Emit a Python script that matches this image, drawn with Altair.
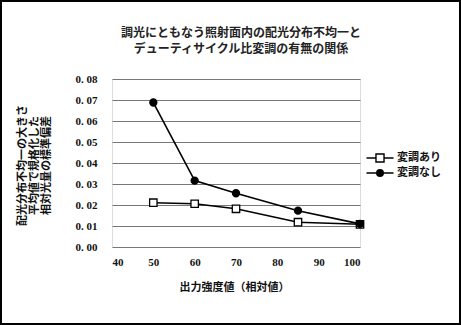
import altair as alt
import pandas as pd

x_vals = [50, 60, 70, 85, 100]
with_mod = [0.0211, 0.0206, 0.0182, 0.0118, 0.0108]
without_mod = [0.0688, 0.0316, 0.0256, 0.0173, 0.0110]
series_names = ["変調あり", "変調なし"]
title_lines = ["調光にともなう照射面内の配光分布不均一と", "デューティサイクル比変調の有無の関係"]
y_title_lines = ["配光分布不均一の大きさ", "平均値で規格化した", "相対光量の標準偏差"]
x_title = "出力強度値（相対値）"
x_ticks = [40, 50, 60, 70, 80, 90, 100]
y_ticks = [0, 0.01, 0.02, 0.03, 0.04, 0.05, 0.06, 0.07, 0.08]

rows = []
for xv, yv in zip(x_vals, with_mod):
    rows.append({"x": xv, "y": yv, "series": series_names[0]})
for xv, yv in zip(x_vals, without_mod):
    rows.append({"x": xv, "y": yv, "series": series_names[1]})
df = pd.DataFrame(rows)

JP = "Noto Sans CJK JP"
NUM = "Liberation Serif"
W, H = 248, 168

xenc = alt.X("x:Q", scale=alt.Scale(domain=[40, 100], nice=False),
             axis=alt.Axis(title=x_title, values=x_ticks,
                           grid=False, ticks=False, domain=False, labelOverlap=False,
                           labelFont=NUM, labelFontSize=11, labelFontWeight="bold",
                           labelColor="#111", labelPadding=9,
                           titleFont=JP, titleFontSize=11, titleFontWeight="bold",
                           titleColor="#111", titlePadding=14, titleX=122, titleAnchor="middle"))
yenc = alt.Y("y:Q", scale=alt.Scale(domain=[0, 0.08], nice=False),
             axis=alt.Axis(title=y_title_lines, values=y_ticks,
                           labelExpr="replace(format(datum.value, '.2f'), '.', '. ')",
                           grid=True, gridColor="#777", gridWidth=1.2,
                           ticks=False, domain=False, labelOverlap=False,
                           labelFont=NUM, labelFontSize=11, labelFontWeight="bold",
                           labelColor="#111", labelPadding=15,
                           titleFont=JP, titleFontSize=11, titleFontWeight="bold",
                           titleColor="#111", titleAngle=-90, titleAlign="center",
                           titleBaseline="top", titleLineHeight=12,
                           titleX=-96, titleY=86))

line = alt.Chart(df).mark_line(color="black", strokeWidth=1.6).encode(
    x=xenc, y=yenc, detail="series:N")

pts_a = alt.Chart(df).transform_filter(alt.datum.series == series_names[0]).mark_point(
    shape="square", filled=True, fill="white", stroke="black", strokeWidth=1.3, size=55, opacity=1
).encode(x=xenc, y=yenc)

pts_b = alt.Chart(df).transform_filter(alt.datum.series == series_names[1]).mark_point(
    shape="circle", filled=True, fill="black", stroke="black", size=40, opacity=1
).encode(x=xenc, y=yenc)

# legend symbols: short line with marker (units: 1 = 6px at symbolSize 144)
legend_paths = [
    "M-2.25,0H-0.67M0.67,0H2.25M-0.67,-0.67H0.67V0.67H-0.67Z",
    "M-2.25,0H2.25M0.55,0A0.55,0.55 0 1,1 -0.55,0A0.55,0.55 0 1,1 0.55,0Z"
    "M0.33,0A0.33,0.33 0 1,1 -0.33,0A0.33,0.33 0 1,1 0.33,0Z"
    "M0.12,0A0.12,0.12 0 1,1 -0.12,0A0.12,0.12 0 1,1 0.12,0Z",
]
legend_layer = alt.Chart(df).transform_filter("false").mark_point(
    filled=False, color="black", stroke="black", strokeWidth=1.4
).encode(
    x=xenc, y=yenc,
    shape=alt.Shape("series:N", scale=alt.Scale(domain=series_names, range=legend_paths),
                    legend=alt.Legend(title=None, orient="none", legendX=261, legendY=72,
                                      labelFont=JP, labelFontSize=11, labelFontWeight="bold",
                                      labelColor="#111", symbolSize=144,
                                      symbolStrokeColor="black", symbolFillColor="white",
                                      symbolStrokeWidth=1.4, symbolOpacity=1,
                                      rowPadding=1, labelOffset=10)),
)

frame = alt.Chart(alt.Data(values=[{}])).mark_rect(
    fill=None, stroke="black", strokeWidth=2, clip=False
).encode(x=alt.value(-111), x2=alt.value(W + 100), y=alt.value(-78), y2=alt.value(H + 77))

chart = alt.layer(line, pts_a, pts_b, legend_layer, frame).properties(
    width=W, height=H,
    title=alt.TitleParams(text=title_lines, anchor="middle", font=JP, fontSize=12,
                          fontWeight="bold", color="#222", offset=-56, dx=5, lineHeight=16),
    autosize=alt.AutoSizeParams(type="none"),
    padding={"left": 112, "top": 79, "right": 101, "bottom": 78},
).configure_view(stroke="#777", strokeWidth=1.2).configure(background="white")

chart.save("out.html", embed_options={"renderer": "svg", "actions": False})
